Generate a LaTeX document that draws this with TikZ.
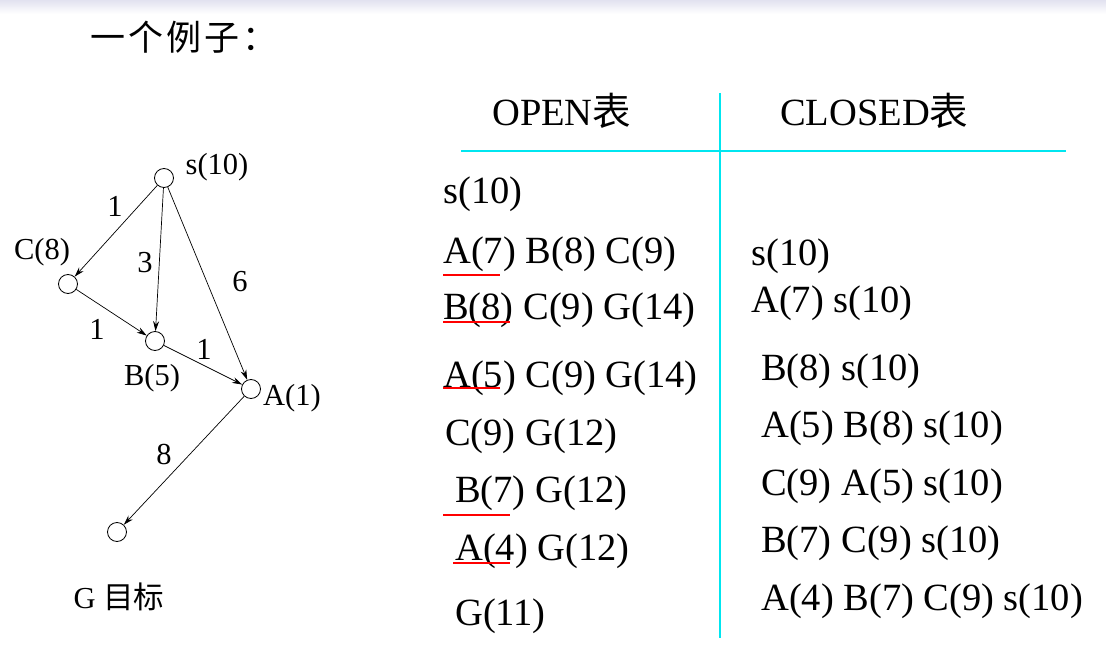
\documentclass[tikz,border=0pt]{standalone}
\usepackage{fontspec}
\setmainfont{Liberation Serif}
\newfontfamily\cjk{Noto Sans CJK SC}
\usetikzlibrary{arrows.meta}
\definecolor{topband}{RGB}{226,226,240}
\definecolor{tablecyan}{RGB}{0,230,240}
\begin{document}
\begin{tikzpicture}[x=1pt,y=-1pt,
  vtx/.style={circle,draw,minimum size=19pt,inner sep=0pt,line width=0.8pt},
  arr/.style={-{Stealth[length=10pt,width=6pt]},line width=0.7pt},
  glab/.style={font=\fontsize{30.5}{32}\selectfont,inner sep=0pt},
  tlab/.style={font=\fontsize{38.5}{40}\selectfont,inner sep=0pt,anchor=base west},
  redline/.style={red,line width=1.2pt},
  cyanline/.style={tablecyan,line width=1.6pt}]
\useasboundingbox (0,0) rectangle (1106,658);
\shade[top color=topband,bottom color=white] (0,0) rectangle (1106,14);
% title
\node[anchor=base west,inner sep=0pt,font=\cjk\fontsize{35}{36}\selectfont] (title) at (90,51) {一\hspace{3pt}个\hspace{3pt}例\hspace{3pt}子\hspace{3pt}：};
% graph
\node[vtx] (s) at (164,178) {};
\node[vtx] (C) at (68,284) {};
\node[vtx] (B) at (155,341) {};
\node[vtx] (A) at (251,389) {};
\node[vtx] (G) at (117,532) {};
\node[glab] (ls) at (217,167) {s(10)};
\node[glab] (lC) at (42,252) {C(8)};
\node[glab] (lB) at (152,378) {B(5)};
\node[glab] (lA) at (292,398) {A(1)};
\node[glab] (lG) at (119,597) {G {\cjk 目标}};
\draw[arr] (s) -- (C);
\draw[arr] (s) -- (B);
\draw[arr] (s) -- (A);
\draw[arr] (C) -- (B);
\draw[arr] (B) -- (A);
\draw[arr] (A) -- (G);
\node[glab] (w1) at (115,206) {1};
\node[glab] (w2) at (145,263) {3};
\node[glab] (w3) at (240,282) {6};
\node[glab] (w4) at (97,329) {1};
\node[glab] (w5) at (204,349) {1};
\node[glab] (w6) at (164,455) {8};
% table lines
\coordinate (h1) at (461,151);
\coordinate (h2) at (1066,151);
\coordinate (v1) at (720,93);
\coordinate (v2) at (720,638);
\draw[tablecyan,line width=1.2pt] (h1) -- (h2);
\draw[cyanline] (v1) -- (v2);
% headers
\node[tlab] (ho) at (492,126) {OPEN{\cjk 表}};
\node[tlab] (hc) at (780,126) {CLOSED{\cjk 表}};
% OPEN
\node[tlab] (o1) at (443,204) {s(10)};
\node[tlab] (o2) at (443,263) {A(7) B(8) C(9)};
\node[tlab] (o3) at (443,319) {B(8) C(9) G(14)};
\node[tlab] (o4) at (443,387) {A(5) C(9) G(14)};
\node[tlab] (o5) at (445,445) {C(9) G(12)};
\node[tlab] (o6) at (455,502) {B(7) G(12)};
\node[tlab] (o7) at (455,560) {A(4) G(12)};
\node[tlab] (o8) at (455,625) {G(11)};
% CLOSED
\node[tlab] (c1) at (751,265) {s(10)};
\node[tlab] (c2) at (751,312) {A(7) s(10)};
\node[tlab] (c3) at (761,380) {B(8) s(10)};
\node[tlab] (c4) at (761,437) {A(5) B(8) s(10)};
\node[tlab] (c5) at (761,495) {C(9) A(5) s(10)};
\node[tlab] (c6) at (761,552) {B(7) C(9) s(10)};
\node[tlab] (c7) at (761,610) {A(4) B(7) C(9) s(10)};
% red underlines
\draw[redline] (443,275) -- (500,275);
\draw[redline] (443,322) -- (510,322);
\draw[redline] (443,388) -- (500,388);
\draw[redline] (443,515) -- (510,515);
\draw[redline] (453,563) -- (510,563);
\end{tikzpicture}
\end{document}
